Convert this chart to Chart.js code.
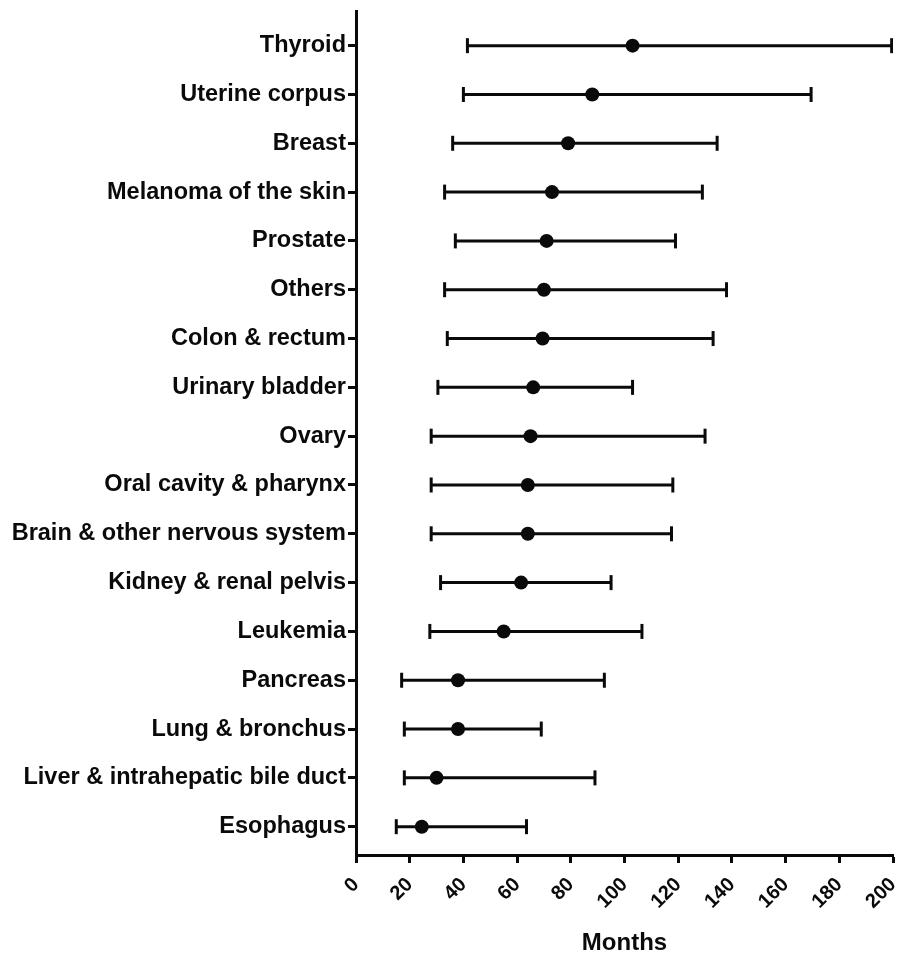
<!DOCTYPE html>
<html>
<head>
<meta charset="utf-8">
<title>Survival by cancer site</title>
<script src="https://cdn.jsdelivr.net/npm/chart.js@4/dist/chart.umd.min.js"></script>
<style>
  html, body { margin: 0; padding: 0; background: #fff; }
  canvas { display: block; }
</style>
</head>
<body>
<canvas id="chart" width="912" height="955"></canvas>
<script>
// Cancer sites, listed top to bottom
const sites = [
  "Thyroid", "Uterine corpus", "Breast", "Melanoma of the skin", "Prostate",
  "Others", "Colon & rectum", "Urinary bladder", "Ovary", "Oral cavity & pharynx",
  "Brain & other nervous system", "Kidney & renal pelvis", "Leukemia", "Pancreas",
  "Lung & bronchus", "Liver & intrahepatic bile duct", "Esophagus"
];
// Central estimate (months)
const centre = [103, 88, 79, 73, 71, 70, 69.5, 66, 65, 64, 64, 61.5, 55, 38, 38, 30, 24.5];
// Lower end of the interval (months)
const lower = [41.5, 40, 36, 33, 37, 33, 34, 30.5, 28, 28, 28, 31.5, 27.5, 17, 18, 18, 15];
// Upper end of the interval (months)
const upper = [199.5, 169.5, 134.5, 129, 119, 138, 133, 103, 130, 118, 117.5, 95, 106.5, 92.5, 69, 89, 63.5];
// x-axis tick values
const monthTicks = [0, 20, 40, 60, 80, 100, 120, 140, 160, 180, 200];

const N = sites.length;
const rowOf = i => N - 1 - i;   // top row gets the highest y value
const FONT = '"Liberation Sans", Arial, Helvetica, sans-serif';
const INK = '#0a0a0a';

const datasets = [];

// horizontal interval lines, one per site
sites.forEach((s, i) => {
  datasets.push({
    type: 'line',
    label: s,
    data: [{ x: lower[i], y: rowOf(i) }, { x: upper[i], y: rowOf(i) }],
    borderColor: INK,
    borderWidth: 3,
    pointRadius: 0,
    showLine: true,
    fill: false
  });
});

// end caps
datasets.push({
  type: 'scatter',
  label: 'caps',
  data: sites.flatMap((s, i) => [
    { x: lower[i], y: rowOf(i) },
    { x: upper[i], y: rowOf(i) }
  ]),
  pointStyle: 'line',
  rotation: 90,
  pointRadius: 7.5,
  pointBorderWidth: 3,
  pointBorderColor: INK,
  pointBackgroundColor: INK
});

// central markers
datasets.push({
  type: 'scatter',
  label: 'centre',
  data: sites.map((s, i) => ({ x: centre[i], y: rowOf(i) })),
  pointStyle: 'circle',
  pointRadius: 7,
  pointBorderWidth: 0,
  pointBackgroundColor: INK,
  pointBorderColor: INK
});

new Chart(document.getElementById('chart'), {
  type: 'scatter',
  data: { datasets },
  options: {
    responsive: false,
    animation: false,
    layout: { padding: { top: 11, right: 19, bottom: 0, left: 0 } },
    plugins: {
      legend: { display: false },
      tooltip: { enabled: false }
    },
    scales: {
      x: {
        type: 'linear',
        min: 0,
        max: 200,
        afterBuildTicks: sc => { sc.ticks = monthTicks.map(v => ({ value: v })); },
        afterFit: sc => {
          sc.height = 100;
          sc.paddingLeft = 0;
          sc.paddingRight = 0;
        },
        border: { display: true, color: INK, width: 3 },
        grid: {
          drawOnChartArea: false,
          drawTicks: true,
          tickLength: 8,
          tickWidth: 3,
          tickColor: INK
        },
        ticks: {
          color: INK,
          font: { family: FONT, size: 20, weight: 'bold' },
          minRotation: 45,
          maxRotation: 45,
          padding: 10
        },
        title: {
          display: true,
          text: 'Months',
          color: INK,
          font: { family: FONT, size: 24, weight: 'bold', lineHeight: 1 },
          padding: { top: 0, bottom: 0 }
        }
      },
      y: {
        type: 'linear',
        min: -0.58,
        max: 16.71,
        afterBuildTicks: sc => { sc.ticks = sites.map((s, i) => ({ value: i })); },
        afterFit: sc => {
          sc.width = 356;
          sc.paddingTop = 0;
          sc.paddingBottom = 0;
        },
        border: { display: true, color: INK, width: 3 },
        grid: {
          drawOnChartArea: false,
          drawTicks: true,
          tickLength: 8,
          tickWidth: 3,
          tickColor: INK
        },
        ticks: {
          autoSkip: false,
          color: INK,
          font: { family: FONT, size: 23.5, weight: 'bold' },
          padding: 2,
          callback: v => sites[N - 1 - v]
        }
      }
    }
  }
});
</script>
</body>
</html>
